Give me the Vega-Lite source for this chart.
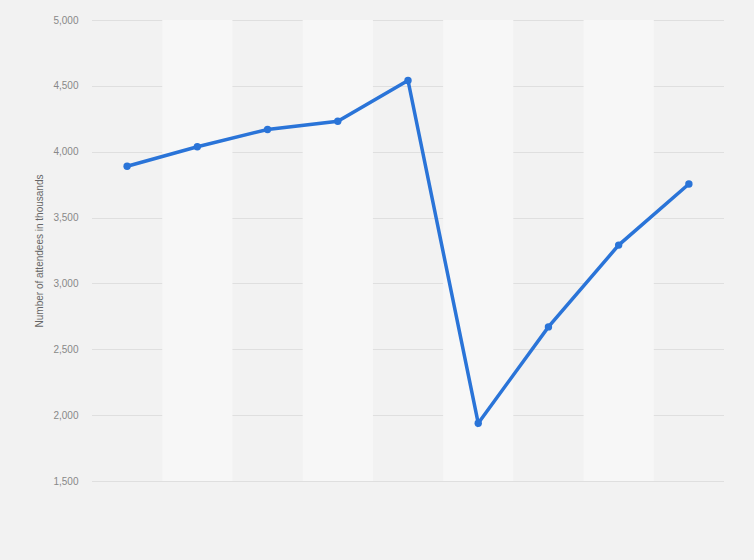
{
  "$schema": "https://vega.github.io/schema/vega-lite/v6.json",
  "autosize": "none",
  "width": 632,
  "height": 461,
  "padding": {"left": 92, "top": 20, "right": 30, "bottom": 79},
  "background": "#f2f2f2",
  "config": {"view": {"stroke": null}, "font": "Arial"},
  "datasets": {
    "series": [
      {"year": "2015", "attendees": 3890},
      {"year": "2016", "attendees": 4038},
      {"year": "2017", "attendees": 4169},
      {"year": "2018", "attendees": 4231},
      {"year": "2019", "attendees": 4541},
      {"year": "2020", "attendees": 1939},
      {"year": "2021", "attendees": 2670},
      {"year": "2022", "attendees": 3291},
      {"year": "2023", "attendees": 3755}
    ],
    "bands": [
      {"year": "2016"},
      {"year": "2018"},
      {"year": "2020"},
      {"year": "2022"}
    ]
  },
  "layer": [
    {
      "data": {"name": "bands"},
      "mark": {"type": "rect", "fill": "#f7f7f7"},
      "encoding": {
        "x": {"field": "year", "type": "nominal", "scale": {"paddingInner": 0, "paddingOuter": 0}, "axis": null}
      }
    },
    {
      "data": {"name": "series"},
      "mark": {"type": "line", "color": "#2a74d8", "strokeWidth": 3.5, "point": {"filled": true, "size": 55, "color": "#2a74d8"}},
      "encoding": {
        "x": {"field": "year", "type": "nominal", "axis": null},
        "y": {
          "field": "attendees",
          "type": "quantitative",
          "scale": {"domain": [1500, 5000], "nice": false, "zero": false},
          "axis": {
            "values": [1500, 2000, 2500, 3000, 3500, 4000, 4500, 5000],
            "format": ",.0f",
            "title": "Number of attendees in thousands",
            "titleFont": "Arial",
            "titleFontSize": 10,
            "titleFontWeight": "normal",
            "titleColor": "#666666",
            "titlePadding": 8,
            "labelFont": "Arial",
            "labelFontSize": 10,
            "labelColor": "#888888",
            "labelPadding": 14,
            "domain": false,
            "ticks": false,
            "grid": true,
            "gridColor": "#cccccc",
            "gridDash": [1, 1],
            "gridWidth": 1
          }
        }
      }
    }
  ]
}
